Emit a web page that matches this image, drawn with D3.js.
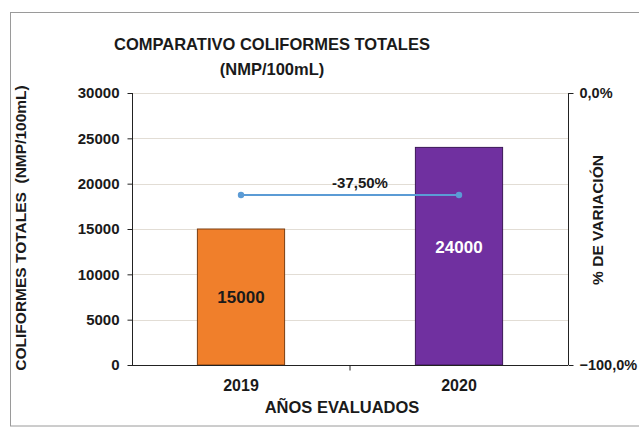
<!DOCTYPE html>
<html>
<head>
<meta charset="utf-8">
<script src="https://cdn.jsdelivr.net/npm/d3@7"></script>
<style>
  body { margin: 0; background: #fff; }
  svg { display: block; font-family: "Liberation Sans", Arial, sans-serif; }
</style>
</head>
<body>
<svg id="chart" width="639" height="428"></svg>
<script>
// ---- data ----
const categories = ["2019", "2020"];
const values = [15000, 24000];
const variation = [-37.5, -37.5];
const variationLabel = "-37,50%";
const leftTicks = [0, 5000, 10000, 15000, 20000, 25000, 30000];
const rightTicks = [-100, 0];
const barColors = ["#F07F2B", "#7030A0"];
const labelColors = ["#1a1a1a", "#ffffff"];

const svg = d3.select("#chart");
const plot = { left: 132, right: 568, top: 93, bottom: 365 };
const FONT = "Liberation Sans, Arial, sans-serif";
const INK = "#1a1a1a";

// outer frame
svg.append("rect").attr("x", 10.5).attr("y", 12.5).attr("width", 640).attr("height", 413.5)
  .attr("fill", "#fff").attr("stroke", "#9a9a9a").attr("stroke-width", 1);

// scales
const x = d3.scaleBand().domain(categories).range([plot.left, plot.right])
  .paddingInner(0.6).paddingOuter(0.3);
const y = d3.scaleLinear().domain([0, 30000]).range([plot.bottom, plot.top]);
const y2 = d3.scaleLinear().domain([-100, 0]).range([plot.bottom, plot.top]);

// gridlines
svg.append("g").selectAll("line").data(leftTicks.filter(d => d > 0)).join("line")
  .attr("x1", plot.left).attr("x2", plot.right)
  .attr("y1", d => Math.round(y(d)) + 0.5).attr("y2", d => Math.round(y(d)) + 0.5)
  .attr("stroke", "#e2ddd5").attr("stroke-width", 1);

// bars
svg.append("g").selectAll("rect").data(values).join("rect")
  .attr("x", (d, i) => x(categories[i]))
  .attr("y", d => y(d))
  .attr("width", x.bandwidth())
  .attr("height", d => plot.bottom - y(d))
  .attr("fill", (d, i) => barColors[i])
  .attr("stroke", (d, i) => i === 0 ? "#7a3f12" : "#3b1757")
  .attr("stroke-width", 1);

// bar labels
svg.append("g").selectAll("text").data(values).join("text")
  .attr("x", (d, i) => x(categories[i]) + x.bandwidth() / 2)
  .attr("y", (d, i) => (y(d) + plot.bottom) / 2 + (i === 0 ? 6 : -3))
  .attr("text-anchor", "middle")
  .attr("font-size", 17).attr("font-weight", "bold")
  .attr("fill", (d, i) => labelColors[i])
  .text(d => d);

// variation line
const cx = (d, i) => x(categories[i]) + x.bandwidth() / 2;
const line = d3.line().x((d, i) => cx(d, i)).y(d => y2(d));
svg.append("path").datum(variation).attr("d", line)
  .attr("fill", "none").attr("stroke", "#5B9BD5").attr("stroke-width", 2);
svg.append("g").selectAll("circle").data(variation).join("circle")
  .attr("cx", cx).attr("cy", d => y2(d)).attr("r", 3.2)
  .attr("fill", "#5B9BD5");
svg.append("text")
  .attr("x", (cx(0, 0) + cx(0, 1)) / 2 + 10).attr("y", y2(variation[0]) - 7)
  .attr("text-anchor", "middle").attr("font-size", 15).attr("font-weight", "bold")
  .attr("fill", INK).text(variationLabel);

// left axis
const gL = svg.append("g").attr("transform", `translate(${plot.left + 0.5},0)`)
  .call(d3.axisLeft(y).tickValues(leftTicks).tickSize(5).tickPadding(8).tickFormat(d3.format("d")));
gL.selectAll("text").attr("font-size", 15).attr("font-weight", "bold").attr("fill", INK)
  .attr("font-family", FONT);
gL.selectAll("line, path").attr("stroke", "#222");
gL.select("path").attr("d", `M0,${plot.top}V${plot.bottom}`);

// right axis
const fmtPct = d => d3.format(".1f")(d).replace(".", ",") + "%";
const gR = svg.append("g").attr("transform", `translate(${plot.right + 0.5},0)`)
  .call(d3.axisRight(y2).tickValues(rightTicks).tickSize(5).tickPadding(6).tickFormat(fmtPct));
gR.selectAll("text").attr("font-size", 14.5).attr("font-weight", "bold").attr("fill", INK)
  .attr("font-family", FONT);
gR.selectAll("line, path").attr("stroke", "#222");
gR.select("path").attr("d", `M0,${plot.top}V${plot.bottom}`);

// bottom axis
const gB = svg.append("g").attr("transform", `translate(0,${plot.bottom + 0.5})`);
gB.append("line").attr("x1", plot.left).attr("x2", plot.right)
  .attr("stroke", "#222").attr("stroke-width", 1);
gB.selectAll("line.tk").data([(x(categories[0]) + x.bandwidth() + x(categories[1])) / 2]).join("line")
  .attr("class", "tk").attr("x1", d => d).attr("x2", d => d).attr("y1", 0).attr("y2", 5)
  .attr("stroke", "#222");
gB.selectAll("text").data(categories).join("text")
  .attr("x", d => x(d) + x.bandwidth() / 2).attr("y", 25)
  .attr("text-anchor", "middle").attr("font-size", 16).attr("font-weight", "bold")
  .attr("fill", INK).text(d => d);

// titles
svg.append("text").attr("x", 272).attr("y", 50).attr("text-anchor", "middle")
  .attr("font-size", 16.5).attr("font-weight", "bold").attr("fill", INK)
  .text("COMPARATIVO COLIFORMES TOTALES");
svg.append("text").attr("x", 272).attr("y", 75).attr("text-anchor", "middle")
  .attr("font-size", 16.5).attr("font-weight", "bold").attr("fill", INK)
  .text("(NMP/100mL)");
svg.append("text").attr("x", 342).attr("y", 413).attr("text-anchor", "middle")
  .attr("font-size", 16.5).attr("font-weight", "bold").attr("fill", INK)
  .text("AÑOS EVALUADOS");
svg.append("text").attr("transform", "translate(26,228) rotate(-90)").attr("text-anchor", "middle")
  .attr("font-size", 15.5).attr("font-weight", "bold").attr("fill", INK).attr("xml:space", "preserve")
  .text("COLIFORMES TOTALES  (NMP/100mL)");
svg.append("text").attr("transform", "translate(603,220) rotate(-90)").attr("text-anchor", "middle")
  .attr("font-size", 15.5).attr("font-weight", "bold").attr("fill", INK)
  .text("% DE VARIACIÓN");
</script>
</body>
</html>
